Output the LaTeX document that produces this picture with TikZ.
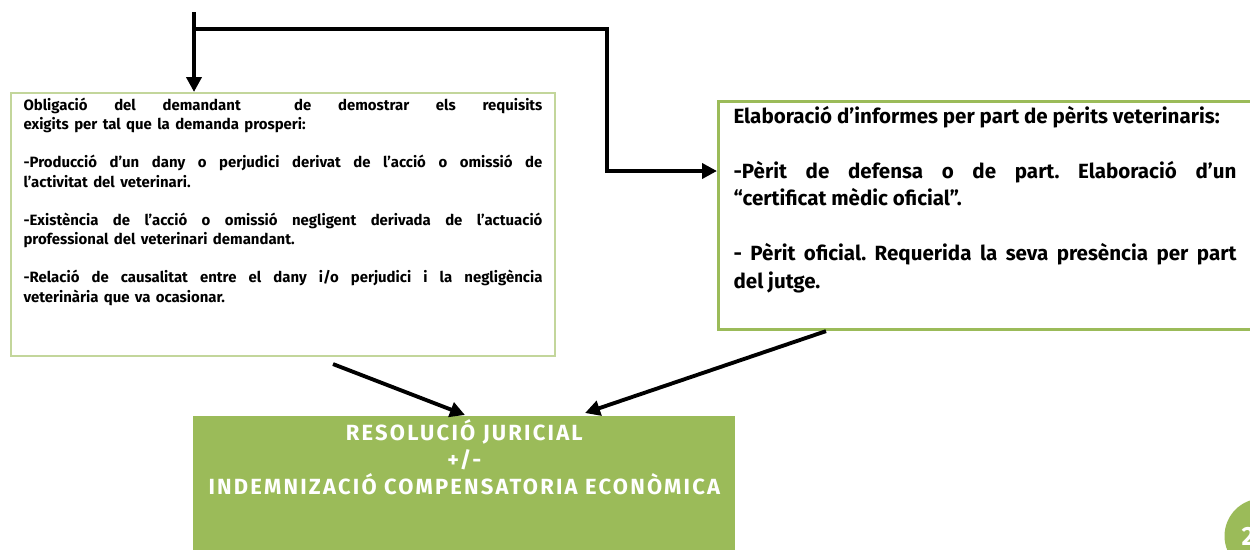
\documentclass[tikz,border=0pt]{standalone}
\usepackage{fontspec}
\setmainfont{Fira Sans}
\usetikzlibrary{arrows.meta,calc}
\definecolor{olivegreen}{HTML}{9BBB59}
\definecolor{palegreen}{HTML}{C3D69B}
\frenchspacing
\tikzset{
  leftbox/.style={draw=palegreen, line width=1.2pt, inner sep=0pt, anchor=north west},
  rightbox/.style={draw=olivegreen, line width=1.8pt, inner sep=0pt, anchor=north west},
  resultbox/.style={fill=olivegreen, inner sep=0pt, anchor=north west, text=white},
  flow/.style={line width=2.2pt, ->},
}
\begin{document}
\begin{tikzpicture}[x=0.02cm, y=-0.02cm, >={Triangle[length=0.3cm, width=0.3cm]}]
    \useasboundingbox (0,0) rectangle (1250,549);
    \clip (0,0) rectangle (1250,549);

    % Draw boxes
    \node[leftbox, minimum width=10.88cm, minimum height=5.26cm] (lbox) at (10,92)
      {\parbox[c][5.26cm][t]{10.38cm}{\vspace*{0.1cm}\fontsize{8.5}{10.9}\selectfont\bfseries
        \spaceskip=0.36em plus 0.4em minus 0.1em
        Obligació del demandant\ \ de demostrar els requisits\linebreak
        exigits per tal que la demanda prosperi:\par\vspace{10.9pt}
        -Producció d’un dany o perjudici derivat de l’acció o omissió de\linebreak
        l’activitat del veterinari.\par\vspace{10.9pt}
        -Existència de l’acció o omissió negligent derivada de l’actuació\linebreak
        professional del veterinari demandant.\par\vspace{10.9pt}
        -Relació de causalitat entre el dany i/o perjudici i la negligència\linebreak
        veterinària que va ocasionar.}};
    \node[rightbox, minimum width=10.66cm, minimum height=4.56cm] (rbox) at (717,100)
      {\parbox[c][4.56cm][t]{10.06cm}{\vspace*{0.1cm}\fontsize{11.7}{15.6}\selectfont\bfseries
        Elaboració d’informes per part de pèrits veterinaris:\par\vspace{15.6pt}
        -Pèrit de defensa o de part. Elaboració d’un\linebreak
        “certificat mèdic oficial”.\par\vspace{15.6pt}
        - Pèrit oficial. Requerida la seva presència per part\linebreak
        del jutge.}};
    \node[resultbox, minimum width=10.84cm, minimum height=2.9cm] (resol) at (193,416)
      {\parbox[c][2.9cm][t]{10.84cm}{\centering\vspace*{0.06cm}\fontsize{12.5}{15.3}\selectfont\bfseries
        \addfontfeatures{LetterSpace=10}
        RESOLUCIÓ JURICIAL\hspace*{0.96cm}\\
        +/-\hspace*{1.72cm}\\
        INDEMNIZACIÓ COMPENSATORIA ECONÒMICA}};
    \node[circle, fill=olivegreen, minimum size=1.5cm, inner sep=0pt, text=white,
      font=\fontsize{15}{15}\selectfont\bfseries] (page) at (1262,536) {2\phantom{22}};

    % Draw connectors
    \coordinate (top) at (194,12);
    \coordinate (split) at (194,29);
    \coordinate (elbow) at (607,171);
    \draw[flow] (top) -- (top |- lbox.north);
    \draw[flow] (split) -| (elbow) -- (elbow -| rbox.west);
    \draw[flow] ($(lbox.south west)+(323,7)$) -- ($(resol.north west)+(272,-1)$);
    \draw[flow] ($(rbox.south west)+(109,0)$) -- ($(resol.north west)+(392,-3)$);
\end{tikzpicture}
\end{document}
